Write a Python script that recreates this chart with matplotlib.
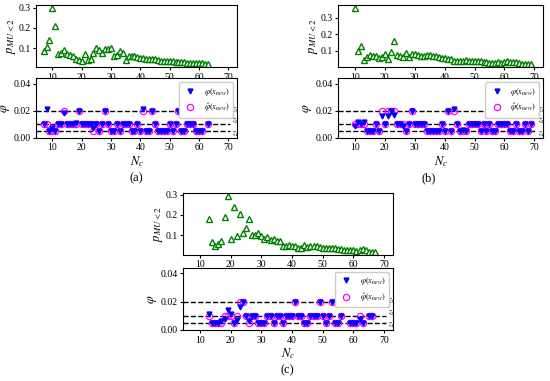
import numpy as np
import matplotlib
matplotlib.use("Agg")
import matplotlib.pyplot as plt

plt.rcParams['font.family'] = ['Liberation Serif', 'DejaVu Serif']
plt.rcParams['mathtext.fontset'] = 'stix'

# ---------------- DADOS ----------------
nc_a = list(range(7, 64))
p_a = [0.085, 0.105, 0.14, 0.30, 0.21, 0.07, 0.075, 0.09, 0.07, 0.065,
       0.06, 0.045, 0.04, 0.035, 0.07, 0.04, 0.045, 0.075, 0.10, 0.09,
       0.075, 0.095, 0.095, 0.10, 0.06, 0.065, 0.085, 0.075, 0.04, 0.06,
       0.06, 0.06, 0.055, 0.05, 0.05, 0.045, 0.045, 0.045, 0.045, 0.04,
       0.035, 0.035, 0.035, 0.035, 0.035, 0.032, 0.032, 0.03, 0.03, 0.028,
       0.027, 0.026, 0.026, 0.026, 0.025, 0.022, 0.02]
z3_a = [14, 19, 28, 41, 44, 53, 62]
z1_a = [9, 10, 11, 24, 26, 30, 31, 33, 37, 38, 40, 42, 43, 46, 47, 48, 49,
        51, 54, 55, 59, 60, 61]
off_a = {8: 0.021, 14: 0.018, 41: 0.0215, 62: 0.021, 10: 0.007, 24: 0.007, 18: 0.011}

nc_b = list(range(10, 70))
p_b = [0.36, 0.10, 0.13, 0.045, 0.06, 0.075, 0.07, 0.065, 0.055, 0.06,
       0.08, 0.05, 0.09, 0.16, 0.075, 0.07, 0.06, 0.085, 0.06, 0.08,
       0.08, 0.075, 0.07, 0.07, 0.075, 0.075, 0.07, 0.065, 0.06, 0.055,
       0.055, 0.05, 0.05, 0.04, 0.035, 0.04, 0.035, 0.045, 0.04, 0.04,
       0.035, 0.035, 0.035, 0.03, 0.03, 0.028, 0.025, 0.028, 0.03, 0.028,
       0.03, 0.035, 0.033, 0.032, 0.03, 0.025, 0.022, 0.02, 0.02, 0.018]
z3_b = [19, 21, 22, 23, 29, 41, 43]
z1_b = [14, 15, 16, 18, 27, 34, 35, 36, 37, 38, 40, 42, 45, 46, 47, 52, 54,
        56, 57, 62, 63, 65, 66, 68]
off_b = {11: 0.012, 13: 0.012, 10: 0.009, 19: 0.016, 21: 0.016, 23: 0.017,
         43: 0.021, 26: 0.009, 46: 0.0055}

nc_c = list(range(13, 68))
p_c = [0.18, 0.065, 0.05, 0.06, 0.07, 0.19, 0.295, 0.08, 0.24, 0.095,
       0.205, 0.11, 0.135, 0.18, 0.10, 0.10, 0.11, 0.095, 0.08, 0.09,
       0.075, 0.08, 0.07, 0.07, 0.05, 0.05, 0.055, 0.05, 0.05, 0.04,
       0.04, 0.055, 0.045, 0.05, 0.05, 0.05, 0.045, 0.04, 0.04, 0.04,
       0.04, 0.04, 0.035, 0.033, 0.03, 0.03, 0.028, 0.028, 0.025, 0.03,
       0.033, 0.028, 0.02, 0.02, 0.018]
z3_c = [23, 24, 41, 49, 53, 57, 58, 64, 67]
z1_c = [14, 15, 16, 17, 21, 26, 29, 30, 31, 34, 37, 44, 45, 51, 54, 55, 59,
        60, 61, 63]
off_c = {13: 0.011, 17: 0.006, 18: 0.0075, 19: 0.014, 20: 0.011, 22: 0.007,
         23: 0.016, 26: 0.006, 62: 0.008, 58: 0.021, 67: 0.021}

niveis = [0.005, 0.01, 0.02]
nomes_niveis = ['$z_1$', '$z_2$', '$z_3$']


def montar_phi(nc, z3, z1, off):
    phi_hat = []
    for n in nc:
        if n in z3:
            phi_hat.append(0.02)
        elif n in z1:
            phi_hat.append(0.005)
        else:
            phi_hat.append(0.01)
    phi = [off.get(n, v) for n, v in zip(nc, phi_hat)]
    return phi, phi_hat


def painel(fig, pos_top, pos_bot, nc, p, z3, z1, off, letra, pos_letra):
    ax1 = fig.add_axes(pos_top)
    ax1.plot(nc, p, linestyle='none', marker='^', ms=4, mfc='white',
             mec='green', mew=1.0)
    ax1.set_xlim(4.5, 73)
    ax1.set_xticks(range(10, 80, 10))
    ax1.set_yticks([0.1, 0.2, 0.3])
    ax1.set_yticklabels(['0.1', '0.2', '0.3'])
    ax1.set_ylabel('$p_{MU<2}$', fontsize=9, labelpad=0)
    ax1.tick_params(labelsize=7, length=2.5, pad=1.5)

    phi, phi_hat = montar_phi(nc, z3, z1, off)
    ax2 = fig.add_axes(pos_bot)
    for nv in niveis:
        ax2.hlines(nv, 4.5, 70.6, colors='black', linestyles='--', lw=1, zorder=1)
    # rótulos dos níveis (z1 um pouco abaixo, z2 um pouco acima)
    ax2.text(71.2, 0.0062, nomes_niveis[0], fontsize=5.5, va='top', ha='left')
    ax2.text(71.2, 0.0088, nomes_niveis[1], fontsize=5.5, va='bottom', ha='left')
    ax2.text(71.2, 0.02, nomes_niveis[2], fontsize=5.5, va='center', ha='left')
    ax2.plot(nc, phi, linestyle='none', marker='v', ms=3.5, color='blue',
             label=r'$\varphi(x_{new})$', zorder=3)
    ax2.plot(nc, phi_hat, linestyle='none', marker='o', ms=4.5, mfc='none',
             mec='magenta', mew=0.9, label=r'$\hat{\varphi}(x_{new})$', zorder=2)
    ax2.set_xlim(4.5, 73)
    ax2.set_ylim(0, 0.044)
    ax2.set_xticks(range(10, 80, 10))
    ax2.set_yticks([0.0, 0.02, 0.04])
    ax2.set_yticklabels(['0.00', '0.02', '0.04'])
    ax2.set_ylabel(r'$\varphi$', fontsize=9, labelpad=1)
    ax2.set_xlabel('$N_c$', fontsize=9, labelpad=1)
    ax2.tick_params(labelsize=7, length=2.5, pad=1.5)
    ax2.legend(loc='upper right', fontsize=6, handletextpad=0.6,
               borderpad=0.4, labelspacing=0.5, framealpha=1)
    fig.text(pos_letra[0], pos_letra[1], letra, fontsize=9, ha='center', va='center')


fig = plt.figure(figsize=(5.5, 3.81), dpi=100)

painel(fig, [0.066, 0.824, 0.365, 0.163], [0.066, 0.638, 0.365, 0.157],
       nc_a, p_a, z3_a, z1_a, off_a, '(a)', (0.247, 0.533))
painel(fig, [0.615, 0.824, 0.373, 0.163], [0.615, 0.638, 0.373, 0.157],
       nc_b, p_b, z3_b, z1_b, off_b, '(b)', (0.780, 0.533))
painel(fig, [0.333, 0.331, 0.382, 0.163], [0.333, 0.134, 0.382, 0.163],
       nc_c, p_c, z3_c, z1_c, off_c, '(c)', (0.522, 0.029))

fig.savefig('out.png', dpi=100)
